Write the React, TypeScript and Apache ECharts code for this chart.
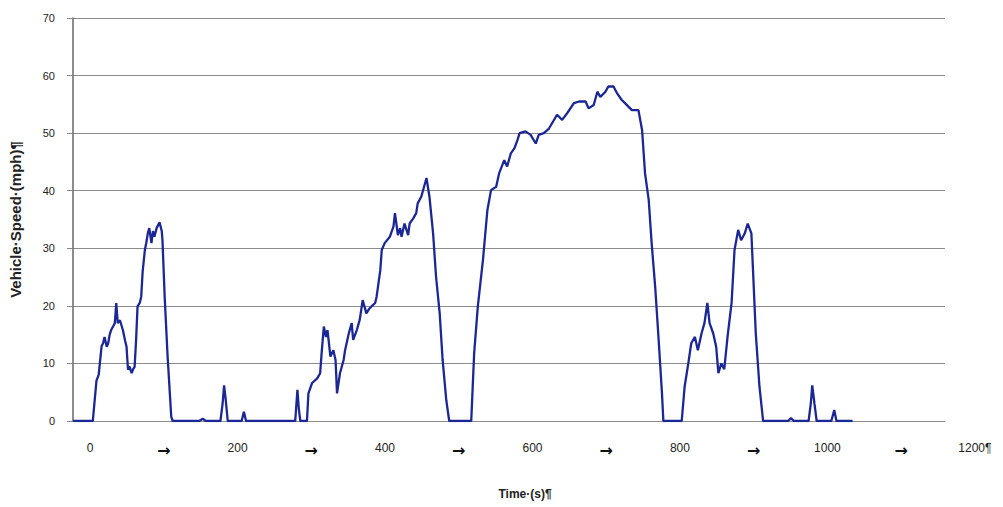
import React, { useEffect, useRef } from "react";
import * as echarts from "echarts";

// Time (s) since start of trace
const timeSec: number[] = [
  0, 25, 27, 32, 35, 39, 41, 43, 46, 48, 50, 52, 55, 57, 59, 61, 64, 68, 71, 73, 75, 77, 80, 82, 84, 86, 88, 91, 93, 95, 98, 100, 102, 104, 107, 109, 111, 114, 118, 121, 122, 125, 129, 134, 136,
  172, 177, 181, 201, 204, 206, 208, 211, 230, 233, 236, 303, 306, 308, 310, 319, 321, 326, 333, 337, 339, 342, 345, 347, 351, 355, 358, 360, 364, 369, 371, 376, 380, 382, 387, 391, 395, 400, 404, 407, 412, 414, 419, 421, 425, 432, 437, 439, 443, 446, 448, 452, 457, 459, 464, 468, 470, 475, 480, 482, 486, 491, 495, 500, 504, 509, 513,
  543, 547, 552, 559, 565, 570, 577, 581, 588, 592, 597, 602, 606, 609, 617, 624, 631, 635, 642, 649, 660, 667, 674, 683, 690, 699, 703, 710, 715, 719, 726, 730, 737, 742, 748, 755, 762, 771, 776, 780, 785, 789, 794, 798, 803, 805,
  830, 834, 839, 843, 848, 852, 857, 861, 865, 868, 873, 877, 880, 884, 888, 893, 898, 902, 907, 911, 916, 920, 925, 927, 931, 936, 941,
  975, 979, 983, 1003, 1006, 1008, 1011, 1014, 1034, 1038, 1041, 1063,
];

// Vehicle speed (mph), same order as timeSec
const speedMph: number[] = [
  0, 0, 0, 7, 8, 13, 13.5, 14.6, 12.9, 13.5, 15, 15.8, 16.5, 17, 20.5, 17, 17.5, 15.8, 14, 12.9, 8.9, 9.5, 8.3, 9, 9.4, 14, 19.9, 20.5, 21.6, 26, 29.7, 31, 32.6, 33.5, 30.9, 33, 32, 33.5, 34.5, 33, 31.4, 21.6, 11.2, 0.7, 0,
  0, 0.4, 0, 0, 3, 6.2, 4, 0, 0, 1.6, 0, 0, 5.4, 2, 0, 0, 4.8, 6.6, 7.4, 8.3, 11.8, 16.4, 14.6, 15.8, 11.2, 12.3, 10.6, 4.8, 8.3, 10.6, 12.3, 15.2, 17, 14.1, 15.8, 17.6, 21, 18.7, 19.5, 19.9, 20.5, 21.6, 26.2, 29.7, 30.9, 32, 33.8, 36.1, 32.3, 33.5, 32, 34.3, 32.3, 34.3, 35.2, 36.1, 37.8, 39, 41.3, 42.2, 39, 32.6, 25.1, 18.7, 10.6, 3.6, 0,
  0, 11.8, 19.9, 28, 36.6, 40.1, 40.7, 43, 45.3, 44.2, 46.5, 47.4, 48.8, 50, 50.3, 49.7, 48.2, 49.7, 50, 50.8, 53.2, 52.3, 53.5, 55.2, 55.5, 55.5, 54.3, 54.9, 57.2, 56.3, 57.2, 58.1, 58.1, 56.9, 55.8, 54.9, 54, 54, 50.5, 43, 38.4, 30.9, 23, 15.2, 5, 0,
  0, 6, 10, 13.5, 14.6, 12.3, 15.2, 17, 20.5, 17, 15.2, 12.9, 8.3, 10, 9, 15.2, 20.5, 29.7, 33.2, 31.4, 32.6, 34.3, 32.6, 26.8, 15.2, 6, 0,
  0, 0.5, 0, 0, 3, 6.2, 3, 0, 0, 1.9, 0, 0,
];

// Tick labels of the time axis
const timeTickValues: number[] = [0, 100, 200, 300, 400, 500, 600, 700, 800, 900, 1000, 1100, 1200];
const yTicks: number[] = [0, 10, 20, 30, 40, 50, 60, 70];

const FONT = "'Liberation Sans', Arial, sans-serif";

export default function App() {
  const ref = useRef<HTMLDivElement>(null);
  useEffect(() => {
    if (!ref.current) return;
    const chart = echarts.init(ref.current, null, { renderer: "svg" });
    const data = timeSec.map((t, i) => [t, speedMph[i]]);
    chart.setOption({
      animation: false,
      backgroundColor: "#ffffff",
      textStyle: { fontFamily: FONT },
      grid: [
        { left: 68, top: 18, width: 877, height: 403 },
        { left: 68, top: 420, width: 929, height: 1 },
      ],
      xAxis: [
        {
          type: "value",
          gridIndex: 0,
          min: 0,
          max: 1189,
          axisLine: { show: true, lineStyle: { color: "#8c8c8c", width: 1 } },
          axisTick: { show: false },
          axisLabel: { show: false },
          splitLine: { show: false },
        },
        {
          type: "value",
          gridIndex: 1,
          min: -30,
          max: 1230,
          axisLine: { show: false },
          axisTick: { show: false },
          splitLine: { show: false },
          axisLabel: {
            show: true,
            customValues: timeTickValues,
            margin: 21,
            color: "#222",
            fontSize: 12,
            fontFamily: FONT,
            formatter: (v: number) =>
              v % 200 === 0 ? (v === 1200 ? "1200¶" : String(v)) : "{a|→}",
            rich: { a: { fontSize: 16, fontWeight: "bold", color: "#111", fontFamily: "DejaVu Sans" } },
          },
        },
      ],
      yAxis: [
        {
          type: "value",
          gridIndex: 0,
          min: 0,
          max: 70,
          interval: 10,
          name: "Vehicle·Speed·(mph)¶",
          nameLocation: "middle",
          nameRotate: 90,
          nameGap: 50,
          nameTextStyle: { fontSize: 15, fontWeight: "bold", color: "#222", fontFamily: FONT },
          axisLine: { show: true, lineStyle: { color: "#666", width: 1.5 } },
          axisTick: { show: true, length: 6, lineStyle: { color: "#888" } },
          axisLabel: {
            margin: 18,
            fontSize: 11,
            color: "#222",
            fontFamily: FONT,
            formatter: (v: number) => (yTicks.includes(v) ? String(v) : ""),
          },
          splitLine: { show: true, lineStyle: { color: "#8c8c8c", width: 1 } },
        },
        { type: "value", gridIndex: 1, show: false },
      ],
      graphic: [
        {
          type: "text",
          x: 525,
          y: 494,
          style: {
            text: "Time·(s)¶",
            fontSize: 12,
            fontWeight: "bold",
            fill: "#222",
            fontFamily: FONT,
            textAlign: "center",
            textVerticalAlign: "middle",
          },
        },
      ],
      series: [
        {
          type: "line",
          xAxisIndex: 0,
          yAxisIndex: 0,
          data,
          showSymbol: false,
          smooth: false,
          lineStyle: { color: "#1c2796", width: 2.3 },
          itemStyle: { color: "#1c2796" },
        },
      ],
    });
    return () => chart.dispose();
  }, []);
  return (
    <div
      ref={ref}
      style={{ position: "absolute", left: 0, top: 0, width: 1003, height: 507 }}
    />
  );
}
